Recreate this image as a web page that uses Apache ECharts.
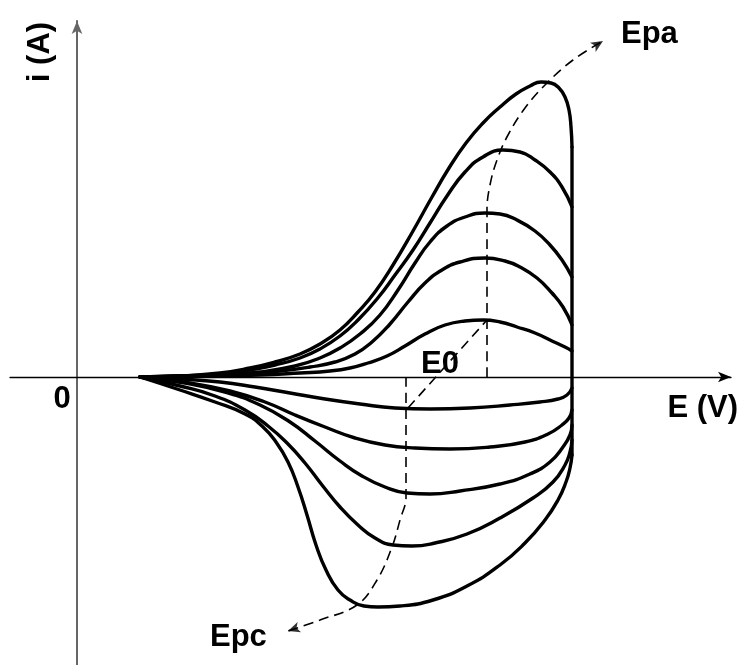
<!DOCTYPE html>
<html>
<head>
<meta charset="utf-8">
<script src="https://cdn.jsdelivr.net/npm/echarts@6/dist/echarts.min.js"></script>
<style>
  html, body { margin: 0; padding: 0; background: #fff; }
  #chart { width: 740px; height: 665px; }
</style>
</head>
<body>
<div id="chart"></div>
<script>
// Cyclic voltammograms at increasing scan rates: [E, i] pairs in arbitrary units.
// Forward (anodic) sweeps, smallest to largest peak.
const anodic1 = [[0.63,0],[1.23,0.01],[1.83,0.02],[2.23,0.04],[2.53,0.06],[2.73,0.09],[2.91,0.14],[3.10,0.21],[3.28,0.31],[3.48,0.43],[3.68,0.52],[3.88,0.56],[4.06,0.57],[4.23,0.55],[4.40,0.50],[4.58,0.44],[4.75,0.36],[4.88,0.30],[4.95,0.26]];
const anodic2 = [[0.63,0],[1.13,0.01],[1.63,0.03],[2.03,0.06],[2.33,0.10],[2.58,0.15],[2.78,0.23],[2.95,0.35],[3.13,0.53],[3.31,0.75],[3.48,0.94],[3.65,1.07],[3.83,1.15],[4.08,1.19],[4.28,1.16],[4.43,1.10],[4.60,0.99],[4.75,0.84],[4.86,0.70],[4.95,0.52]];
const anodic3 = [[0.63,0],[1.03,0.01],[1.43,0.02],[1.83,0.05],[2.18,0.11],[2.43,0.19],[2.63,0.29],[2.83,0.43],[3.03,0.62],[3.21,0.87],[3.38,1.14],[3.53,1.35],[3.70,1.51],[3.88,1.60],[4.08,1.64],[4.23,1.63],[4.40,1.57],[4.58,1.46],[4.73,1.32],[4.85,1.17],[4.95,1.00]];
const anodic4 = [[0.63,0],[1.03,0.01],[1.43,0.03],[1.73,0.07],[1.98,0.12],[2.23,0.19],[2.43,0.28],[2.63,0.41],[2.81,0.57],[3.00,0.78],[3.18,1.02],[3.36,1.27],[3.53,1.54],[3.70,1.81],[3.88,2.05],[4.06,2.20],[4.26,2.27],[4.43,2.25],[4.58,2.17],[4.73,2.05],[4.85,1.90],[4.95,1.70]];
const anodic5 = [[0.63,0],[1.03,0.01],[1.43,0.04],[1.73,0.09],[1.98,0.15],[2.23,0.23],[2.43,0.33],[2.63,0.47],[2.81,0.65],[2.98,0.85],[3.16,1.12],[3.36,1.46],[3.55,1.80],[3.72,2.09],[3.89,2.34],[4.06,2.54],[4.23,2.70],[4.39,2.83],[4.53,2.91],[4.64,2.95],[4.74,2.94],[4.82,2.89],[4.88,2.80],[4.92,2.67],[4.94,2.50],[4.95,2.30]];

// Switching potential: the sweep reverses here.
const switchLine = [[4.95,2.30],[4.95,-0.78]];

// Reverse (cathodic) sweeps, smallest to largest peak.
const cathodic1 = [[0.63,0],[1.03,-0.02],[1.43,-0.05],[1.78,-0.10],[2.13,-0.16],[2.48,-0.22],[2.83,-0.27],[3.18,-0.31],[3.53,-0.32],[3.93,-0.31],[4.33,-0.28],[4.63,-0.25],[4.81,-0.22],[4.90,-0.18],[4.95,-0.11]];
const cathodic2 = [[0.63,0],[1.13,-0.06],[1.53,-0.14],[1.88,-0.25],[2.18,-0.38],[2.48,-0.50],[2.78,-0.61],[3.08,-0.68],[3.38,-0.71],[3.73,-0.72],[4.13,-0.70],[4.48,-0.65],[4.71,-0.57],[4.85,-0.48],[4.92,-0.41],[4.95,-0.33]];
const cathodic3 = [[0.63,0],[1.08,-0.06],[1.48,-0.15],[1.83,-0.28],[2.13,-0.45],[2.38,-0.64],[2.63,-0.84],[2.85,-0.99],[3.08,-1.10],[3.30,-1.16],[3.53,-1.17],[3.83,-1.14],[4.23,-1.07],[4.53,-0.97],[4.73,-0.85],[4.86,-0.70],[4.93,-0.58],[4.95,-0.48]];
const cathodic4 = [[0.63,0],[1.03,-0.09],[1.38,-0.19],[1.68,-0.33],[1.91,-0.49],[2.11,-0.67],[2.28,-0.86],[2.45,-1.08],[2.63,-1.30],[2.81,-1.48],[2.98,-1.61],[3.16,-1.68],[3.35,-1.69],[3.58,-1.66],[3.90,-1.57],[4.23,-1.41],[4.56,-1.21],[4.76,-1.05],[4.88,-0.88],[4.93,-0.75],[4.95,-0.63]];
const cathodic5 = [[0.63,0],[1.03,-0.13],[1.38,-0.25],[1.68,-0.37],[1.85,-0.49],[1.99,-0.65],[2.11,-0.85],[2.21,-1.10],[2.30,-1.38],[2.39,-1.68],[2.49,-1.93],[2.61,-2.13],[2.73,-2.23],[2.87,-2.29],[3.01,-2.30],[3.23,-2.29],[3.56,-2.23],[3.90,-2.09],[4.23,-1.88],[4.48,-1.66],[4.68,-1.43],[4.81,-1.23],[4.89,-1.05],[4.93,-0.91],[4.95,-0.78]];

// Guide lines: anodic peak drift (Epa), cathodic peak drift (Epc), and the E0 link between them.
const epaTrack = [[4.10,0],[4.10,0.87],[4.10,1.67],[4.13,1.92],[4.20,2.17],[4.31,2.42],[4.48,2.69],[4.68,2.92],[4.96,3.17],[5.26,3.36]];
const epcTrack = [[3.29,0],[3.29,-0.63],[3.29,-1.20],[3.23,-1.43],[3.15,-1.70],[3.00,-2.03],[2.80,-2.28],[2.43,-2.43],[2.11,-2.54]];
const e0Link = [[3.31,-0.31],[4.10,0.57]];

// Arrow heads at the ends of the peak tracks, rotation in degrees.
const trackArrows = [
  { point: epaTrack[epaTrack.length - 1], rotate: -58 },
  { point: epcTrack[epcTrack.length - 1], rotate: 109 }
];

// Annotation texts.
const labelText = { yName: 'i (A)', origin: '0', xName: 'E (V)', epa: 'Epa', epc: 'Epc', e0: 'E0' };

const FONT = 'bold 31px "Liberation Sans", Arial, sans-serif';

function sweep(data) {
  return {
    type: 'line', data: data, smooth: 0.5, symbol: 'none', silent: true,
    lineStyle: { color: '#000', width: 3.4, cap: 'round', join: 'round' }, z: 3
  };
}
function guide(data, smooth) {
  return {
    type: 'line', data: data, smooth: smooth, symbol: 'none', silent: true,
    lineStyle: { color: '#000', width: 1.6, type: [10, 6] }, z: 4
  };
}

const chart = echarts.init(document.getElementById('chart'));
chart.setOption({
  animation: false,
  backgroundColor: '#fff',
  grid: { left: 10, right: 9, top: 21, bottom: 0, outerBoundsMode: 'none' },
  xAxis: {
    type: 'value', min: -0.67, max: 6.54, z: 10,
    axisLine: { show: true, onZero: true, symbol: ['none', 'arrow'], symbolSize: [8, 13],
                lineStyle: { color: '#000', width: 1.3 } },
    axisTick: { show: false }, axisLabel: { show: false }, splitLine: { show: false }
  },
  yAxis: {
    type: 'value', min: -2.88, max: 3.56, z: 10,
    axisLine: { show: true, onZero: true, symbol: ['none', 'arrow'], symbolSize: [8, 13],
                lineStyle: { color: '#666', width: 2 } },
    axisTick: { show: false }, axisLabel: { show: false }, splitLine: { show: false }
  },
  series: [
    sweep(anodic1), sweep(anodic2), sweep(anodic3), sweep(anodic4), sweep(anodic5),
    Object.assign(sweep(switchLine), { smooth: false }),
    sweep(cathodic1), sweep(cathodic2), sweep(cathodic3), sweep(cathodic4), sweep(cathodic5),
    guide(epaTrack, 0.4), guide(epcTrack, 0.4), guide(e0Link, false),
    {
      type: 'scatter', silent: true, z: 4,
      symbol: 'arrow', symbolSize: [8, 12],
      itemStyle: { color: '#000' },
      data: trackArrows.map(a => ({ value: a.point, symbolRotate: a.rotate }))
    }
  ],
  graphic: [
    { type: 'text', x: 40, y: 52, rotation: Math.PI / 2, z: 20,
      style: { text: labelText.yName, font: FONT, fill: '#000', align: 'center', verticalAlign: 'middle' } },
    { type: 'text', x: 62, y: 399, z: 20,
      style: { text: labelText.origin, font: FONT, fill: '#000', align: 'center', verticalAlign: 'middle' } },
    { type: 'text', x: 738, y: 408, z: 20,
      style: { text: labelText.xName, font: FONT, fill: '#000', align: 'right', verticalAlign: 'middle' } },
    { type: 'text', x: 621, y: 34, z: 20,
      style: { text: labelText.epa, font: FONT, fill: '#000', align: 'left', verticalAlign: 'middle' } },
    { type: 'text', x: 210, y: 637, z: 20,
      style: { text: labelText.epc, font: FONT, fill: '#000', align: 'left', verticalAlign: 'middle' } },
    { type: 'text', x: 421, y: 364, z: 20,
      style: { text: labelText.e0, font: FONT, fill: '#000', align: 'left', verticalAlign: 'middle' } }
  ]
});
</script>
</body>
</html>
